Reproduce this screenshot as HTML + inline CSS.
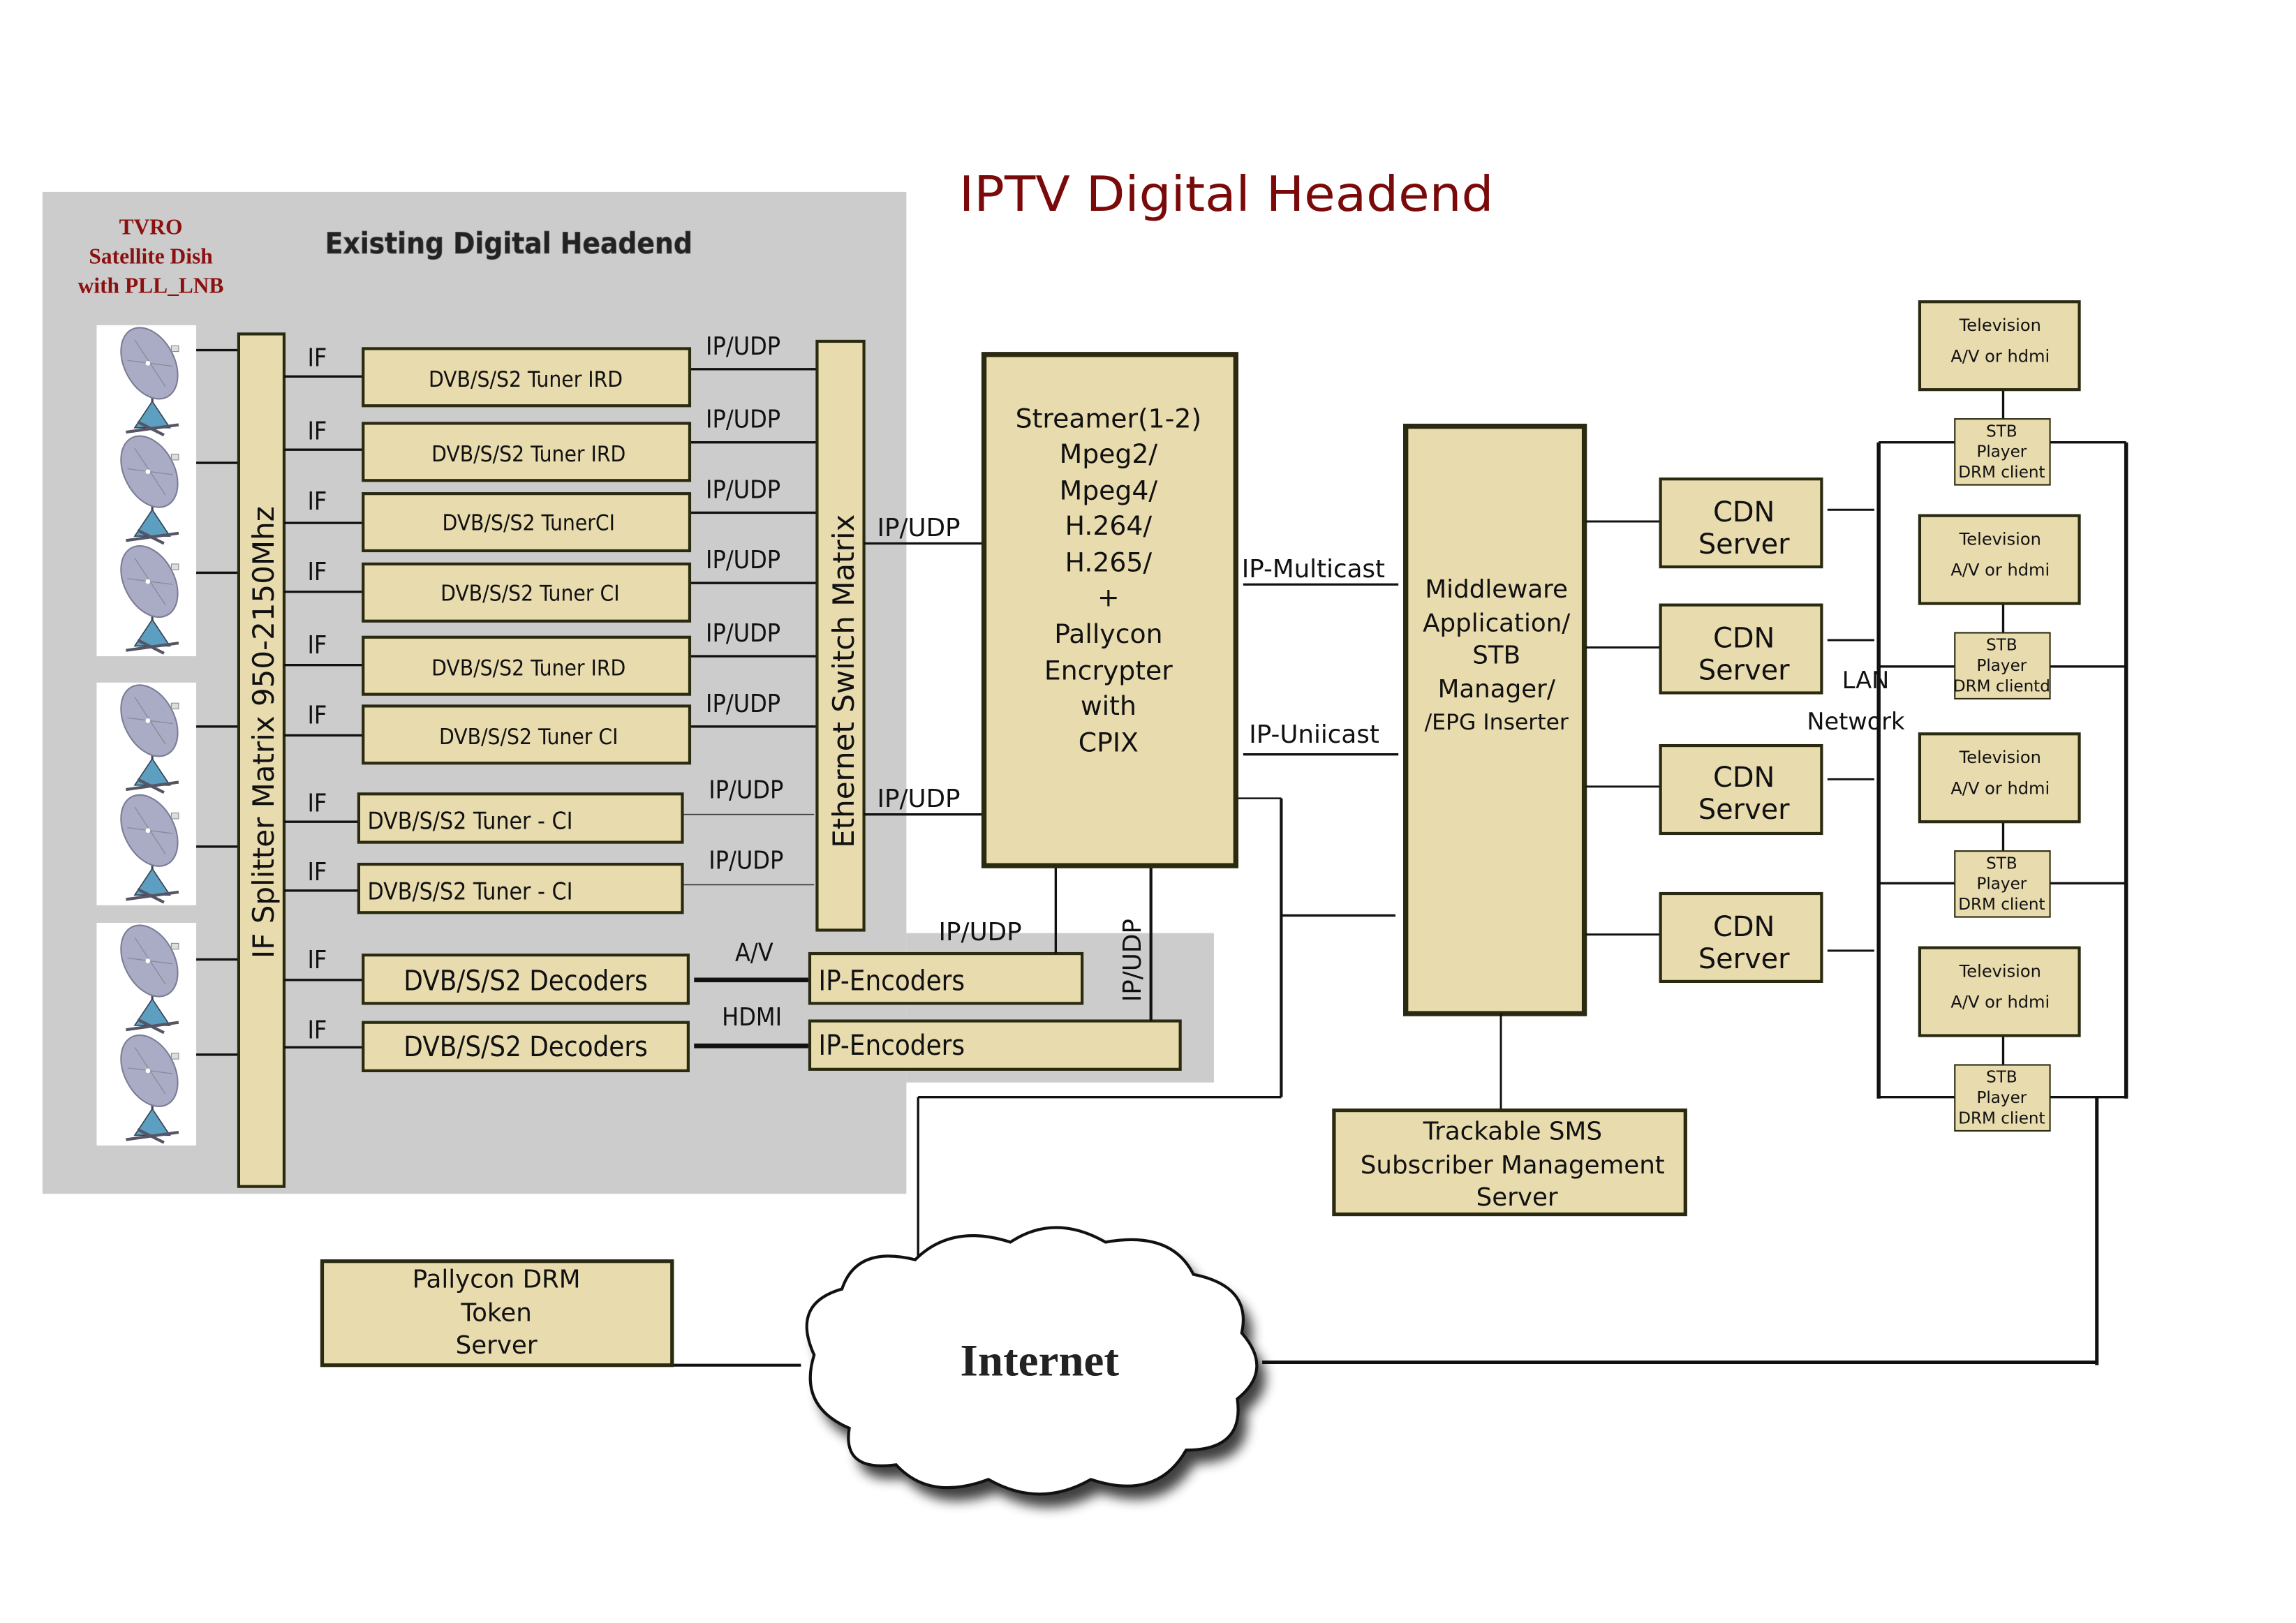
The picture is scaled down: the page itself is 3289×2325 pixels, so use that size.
<!DOCTYPE html>
<html><head><meta charset="utf-8"><style>
html,body{margin:0;padding:0;background:#fff;}
svg{display:block;}
text{font-family:"DejaVu Sans","Liberation Sans",sans-serif;fill:#111;}
.n{font-family:"DejaVu Sans Condensed","DejaVu Sans",sans-serif;}
</style></head><body>
<svg width="3289" height="2325" viewBox="0 0 1568 1108" preserveAspectRatio="none" xmlns="http://www.w3.org/2000/svg">
<defs>
<g id="dish">
<line x1="104" y1="44" x2="104" y2="64" stroke="#445" stroke-width="1.5"/>
<polygon points="104,50 92,68 116,68" fill="#5d9fc0" stroke="#345" stroke-width="0.8"/>
<line x1="86" y1="71" x2="122" y2="66" stroke="#556" stroke-width="2"/>
<line x1="94" y1="64" x2="112" y2="73" stroke="#556" stroke-width="2"/>
<ellipse cx="0" cy="0" rx="17" ry="26" transform="translate(102,24) rotate(-28)" fill="#a9acc4" stroke="#7a7d95" stroke-width="1"/>
<line x1="92" y1="8" x2="113" y2="40" stroke="#889" stroke-width="0.6"/>
<line x1="87" y1="22" x2="118" y2="26" stroke="#889" stroke-width="0.6"/>
<circle cx="101" cy="24" r="1.6" fill="#fff"/>
<rect x="117" y="12" width="5" height="4" fill="#ddd" stroke="#888" stroke-width="0.5"/>
</g>
<filter id="sh" x="-10%" y="-10%" width="130%" height="130%"><feGaussianBlur stdDeviation="4"/></filter>
</defs>

<rect x="29" y="131" width="590" height="684" fill="#cccccc"/>
<rect x="619" y="637" width="210" height="102" fill="#cccccc"/>

<text x="655" y="144" font-size="33" textLength="365" lengthAdjust="spacingAndGlyphs" style="fill:#7a0a0a">IPTV Digital Headend</text>
<text x="222" y="173" font-size="20" font-weight="bold" class="n" style="fill:#222;stroke:#555;stroke-width:0.4">Existing Digital Headend</text>
<g font-family="Liberation Serif,serif" font-weight="bold" font-size="15" text-anchor="middle">
<text x="103" y="160" style="fill:#8b1010;font-family:'Liberation Serif',serif">TVRO</text>
<text x="103" y="180" style="fill:#8b1010;font-family:'Liberation Serif',serif">Satellite Dish</text>
<text x="103" y="200" style="fill:#8b1010;font-family:'Liberation Serif',serif">with  PLL_LNB</text>
</g>

<rect x="66" y="222" width="68" height="226" fill="#fff"/>
<rect x="66" y="466" width="68" height="152" fill="#fff"/>
<rect x="66" y="630" width="68" height="152" fill="#fff"/>
<use href="#dish" transform="translate(0,224)"/>
<use href="#dish" transform="translate(0,298)"/>
<use href="#dish" transform="translate(0,373)"/>
<use href="#dish" transform="translate(0,468)"/>
<use href="#dish" transform="translate(0,543)"/>
<use href="#dish" transform="translate(0,632)"/>
<use href="#dish" transform="translate(0,707)"/>
<g stroke="#111" stroke-width="1.6">
<line x1="134" y1="239" x2="163" y2="239"/>
<line x1="134" y1="316" x2="163" y2="316"/>
<line x1="134" y1="391" x2="163" y2="391"/>
<line x1="134" y1="496" x2="163" y2="496"/>
<line x1="134" y1="578" x2="163" y2="578"/>
<line x1="134" y1="655" x2="163" y2="655"/>
<line x1="134" y1="720" x2="163" y2="720"/>
</g>

<rect x="163" y="228" width="31" height="582" fill="#e8dbae" stroke="#2a2a10" stroke-width="2"/>
<text transform="translate(187,500) rotate(-90)" font-size="20" text-anchor="middle">IF Splitter Matrix 950-2150Mhz</text>

<g stroke="#111" stroke-width="1.6">
<line x1="194" y1="257" x2="248" y2="257"/>
<line x1="194" y1="307" x2="248" y2="307"/>
<line x1="194" y1="357" x2="248" y2="357"/>
<line x1="194" y1="404" x2="248" y2="404"/>
<line x1="194" y1="454" x2="248" y2="454"/>
<line x1="194" y1="502" x2="248" y2="502"/>
<line x1="194" y1="561" x2="245" y2="561"/>
<line x1="194" y1="608" x2="245" y2="608"/>
<line x1="194" y1="669" x2="248" y2="669"/>
<line x1="194" y1="715" x2="248" y2="715"/>
<line x1="471" y1="252" x2="558" y2="252"/>
<line x1="471" y1="302" x2="558" y2="302"/>
<line x1="471" y1="350" x2="558" y2="350"/>
<line x1="471" y1="398" x2="558" y2="398"/>
<line x1="471" y1="448" x2="558" y2="448"/>
<line x1="471" y1="496" x2="558" y2="496"/>
</g>
<g stroke="#333" stroke-width="0.8">
<line x1="466" y1="556" x2="556" y2="556"/>
<line x1="466" y1="604" x2="556" y2="604"/>
</g>
<g font-size="17" class="n">
<text x="210" y="250" class="n">IF</text><text x="210" y="300" class="n">IF</text>
<text x="210" y="348" class="n">IF</text><text x="210" y="396" class="n">IF</text>
<text x="210" y="446" class="n">IF</text><text x="210" y="494" class="n">IF</text>
<text x="210" y="554" class="n">IF</text><text x="210" y="601" class="n">IF</text>
<text x="210" y="661" class="n">IF</text><text x="210" y="709" class="n">IF</text>
<text x="482" y="242" class="n">IP/UDP</text><text x="482" y="292" class="n">IP/UDP</text>
<text x="482" y="340" class="n">IP/UDP</text><text x="482" y="388" class="n">IP/UDP</text>
<text x="482" y="438" class="n">IP/UDP</text><text x="482" y="486" class="n">IP/UDP</text>
<text x="484" y="545" class="n">IP/UDP</text><text x="484" y="593" class="n">IP/UDP</text>
<text x="502" y="656" class="n">A/V</text><text x="493" y="700" class="n">HDMI</text>
</g>
<g fill="#e8dbae" stroke="#2a2a10" stroke-width="2">
<rect x="248" y="238" width="223" height="39"/>
<rect x="248" y="289" width="223" height="39"/>
<rect x="248" y="337" width="223" height="39"/>
<rect x="248" y="385" width="223" height="39"/>
<rect x="248" y="435" width="223" height="39"/>
<rect x="248" y="482" width="223" height="39"/>
<rect x="245" y="542" width="221" height="33"/>
<rect x="245" y="590" width="221" height="33"/>
<rect x="248" y="652" width="222" height="33"/>
<rect x="248" y="698" width="222" height="33"/>
<rect x="553" y="651" width="186" height="34"/>
<rect x="553" y="697" width="253" height="33"/>
</g>
<g font-size="15" class="n" text-anchor="middle">
<text x="359" y="264" class="n">DVB/S/S2  Tuner IRD</text>
<text x="361" y="315" class="n">DVB/S/S2  Tuner IRD</text>
<text x="361" y="362" class="n">DVB/S/S2  TunerCI</text>
<text x="362" y="410" class="n">DVB/S/S2  Tuner CI</text>
<text x="361" y="461" class="n">DVB/S/S2 Tuner IRD</text>
<text x="361" y="508" class="n">DVB/S/S2 Tuner CI</text>
</g>
<g font-size="16" class="n">
<text x="251" y="566" class="n">DVB/S/S2 Tuner - CI</text>
<text x="251" y="614" class="n">DVB/S/S2 Tuner - CI</text>
<text x="359" y="676" font-size="19" text-anchor="middle" class="n">DVB/S/S2 Decoders</text>
<text x="359" y="721" font-size="19" text-anchor="middle" class="n">DVB/S/S2 Decoders</text>
<text x="559" y="676" font-size="19" class="n">IP-Encoders</text>
<text x="559" y="720" font-size="19" class="n">IP-Encoders</text>
</g>
<g stroke="#111" stroke-width="3.2">
<line x1="474" y1="669" x2="552" y2="669"/>
<line x1="474" y1="714" x2="552" y2="714"/>
</g>

<rect x="558" y="233" width="32" height="402" fill="#e8dbae" stroke="#2a2a10" stroke-width="2"/>
<text transform="translate(583,465) rotate(-90)" font-size="20" text-anchor="middle">Ethernet Switch Matrix</text>
<g stroke="#111" stroke-width="1.6">
<line x1="590" y1="371" x2="671" y2="371"/>
<line x1="590" y1="556" x2="671" y2="556"/>
<line x1="721" y1="592" x2="721" y2="651"/>
<line x1="786" y1="592" x2="786" y2="697" stroke-width="2"/>
<line x1="849" y1="399" x2="955" y2="399"/>
<line x1="849" y1="515" x2="955" y2="515"/>
<line x1="843" y1="545" x2="875" y2="545" stroke-width="1.2"/>
<line x1="875" y1="545" x2="875" y2="749" stroke-width="2"/>
<line x1="875" y1="625" x2="953" y2="625"/>
<line x1="627" y1="749" x2="875" y2="749"/>
<line x1="627" y1="749" x2="627" y2="862"/>
</g>
<g font-size="17">
<text x="599" y="366">IP/UDP</text>
<text x="599" y="551">IP/UDP</text>
<text x="641" y="642">IP/UDP</text>
<text transform="translate(779,684) rotate(-90)">IP/UDP</text>
<text x="848" y="394">IP-Multicast</text>
<text x="853" y="507">IP-Uniicast</text>
</g>

<rect x="672" y="242" width="172" height="349" fill="#e8dbae" stroke="#2a2a10" stroke-width="3.5"/>
<g font-size="18" text-anchor="middle">
<text x="757" y="292">Streamer(1-2)</text>
<text x="757" y="316">Mpeg2/</text>
<text x="757" y="341">Mpeg4/</text>
<text x="757" y="365">H.264/</text>
<text x="757" y="390">H.265/</text>
<text x="757" y="414">+</text>
<text x="757" y="439">Pallycon</text>
<text x="757" y="464">Encrypter</text>
<text x="757" y="488">with</text>
<text x="757" y="513">CPIX</text>
</g>

<rect x="960" y="291" width="122" height="401" fill="#e8dbae" stroke="#2a2a10" stroke-width="3.5"/>
<g font-size="17" text-anchor="middle">
<text x="1022" y="408">Middleware</text>
<text x="1022" y="431">Application/</text>
<text x="1022" y="453">STB</text>
<text x="1022" y="476">Manager/</text>
<text x="1022" y="498" font-size="15">/EPG Inserter</text>
</g>
<g stroke="#111" stroke-width="1.4">
<line x1="1083" y1="356" x2="1134" y2="356"/>
<line x1="1083" y1="442" x2="1134" y2="442"/>
<line x1="1083" y1="537" x2="1134" y2="537"/>
<line x1="1083" y1="638" x2="1134" y2="638"/>
<line x1="1248" y1="348" x2="1280" y2="348"/>
<line x1="1248" y1="437" x2="1280" y2="437"/>
<line x1="1248" y1="532" x2="1280" y2="532"/>
<line x1="1248" y1="649" x2="1280" y2="649"/>
<line x1="1025" y1="692" x2="1025" y2="758"/>
<line x1="459" y1="932" x2="547" y2="932" stroke-width="2"/>
<line x1="862" y1="930" x2="1432" y2="930" stroke-width="2.4"/>
<line x1="1432" y1="749" x2="1432" y2="932" stroke-width="2.4"/>
</g>
<g fill="#e8dbae" stroke="#2a2a10" stroke-width="2">
<rect x="1134" y="327" width="110" height="60"/>
<rect x="1134" y="413" width="110" height="60"/>
<rect x="1134" y="509" width="110" height="60"/>
<rect x="1134" y="610" width="110" height="60"/>
</g>
<g font-size="19" text-anchor="middle">
<text x="1191" y="356">CDN</text><text x="1191" y="378">Server</text>
<text x="1191" y="442">CDN</text><text x="1191" y="464">Server</text>
<text x="1191" y="537">CDN</text><text x="1191" y="559">Server</text>
<text x="1191" y="639">CDN</text><text x="1191" y="661">Server</text>
</g>

<g stroke="#111" stroke-width="1.6">
<line x1="1283" y1="302" x2="1452" y2="302"/>
<line x1="1283" y1="455" x2="1452" y2="455"/>
<line x1="1283" y1="603" x2="1452" y2="603"/>
<line x1="1283" y1="749" x2="1452" y2="749"/>
<line x1="1368" y1="266" x2="1368" y2="286"/>
<line x1="1368" y1="412" x2="1368" y2="432"/>
<line x1="1368" y1="561" x2="1368" y2="581"/>
<line x1="1368" y1="707" x2="1368" y2="727"/>
<line x1="1283" y1="302" x2="1283" y2="750" stroke-width="2.6"/>
<line x1="1452" y1="302" x2="1452" y2="750" stroke-width="2.6"/>
</g>
<g fill="#e8dbae" stroke="#2a2a10">
<rect x="1311" y="206" width="109" height="60" stroke-width="2"/>
<rect x="1311" y="352" width="109" height="60" stroke-width="2"/>
<rect x="1311" y="501" width="109" height="60" stroke-width="2"/>
<rect x="1311" y="647" width="109" height="60" stroke-width="2"/>
<rect x="1335" y="286" width="65" height="45" stroke-width="1"/>
<rect x="1335" y="432" width="65" height="45" stroke-width="1"/>
<rect x="1335" y="581" width="65" height="45" stroke-width="1"/>
<rect x="1335" y="727" width="65" height="45" stroke-width="1"/>
</g>
<g font-size="11.5" text-anchor="middle">
<text x="1366" y="226">Television</text><text x="1366" y="247">A/V or hdmi</text>
<text x="1366" y="372">Television</text><text x="1366" y="393">A/V or hdmi</text>
<text x="1366" y="521">Television</text><text x="1366" y="542">A/V or hdmi</text>
<text x="1366" y="667">Television</text><text x="1366" y="688">A/V or hdmi</text>
</g>
<g font-size="11" text-anchor="middle">
<text x="1367" y="298">STB</text><text x="1367" y="312">Player</text><text x="1367" y="326">DRM client</text>
<text x="1367" y="444">STB</text><text x="1367" y="458">Player</text><text x="1367" y="472">DRM clientd</text>
<text x="1367" y="593">STB</text><text x="1367" y="607">Player</text><text x="1367" y="621">DRM client</text>
<text x="1367" y="739">STB</text><text x="1367" y="753">Player</text><text x="1367" y="767">DRM client</text>
</g>
<text x="1258" y="470" font-size="16">LAN</text>
<text x="1234" y="498" font-size="16">Network</text>

<rect x="911" y="758" width="240" height="71" fill="#e8dbae" stroke="#2a2a10" stroke-width="2.5"/>
<g font-size="17" text-anchor="middle">
<text x="1033" y="778">Trackable SMS</text>
<text x="1033" y="801">Subscriber Management</text>
<text x="1036" y="823">Server</text>
</g>

<rect x="220" y="861" width="239" height="71" fill="#e8dbae" stroke="#2a2a10" stroke-width="2.5"/>
<g font-size="17" text-anchor="middle">
<text x="339" y="879">Pallycon DRM</text>
<text x="339" y="902">Token</text>
<text x="339" y="924">Server</text>
</g>

<path d="M580,975 Q545,960 556,925 Q540,890 575,880 Q585,850 625,860 Q650,835 690,848 Q720,828 755,848 Q800,840 815,870 Q855,878 848,910 Q870,935 845,955 Q850,990 810,990 Q790,1025 745,1010 Q710,1030 675,1010 Q635,1025 612,1000 Q575,1005 580,975 Z" fill="#000" opacity="0.75" transform="translate(6,9)" filter="url(#sh)"/>
<path d="M580,975 Q545,960 556,925 Q540,890 575,880 Q585,850 625,860 Q650,835 690,848 Q720,828 755,848 Q800,840 815,870 Q855,878 848,910 Q870,935 845,955 Q850,990 810,990 Q790,1025 745,1010 Q710,1030 675,1010 Q635,1025 612,1000 Q575,1005 580,975 Z" fill="#fff" stroke="#111" stroke-width="2"/>
<text x="710" y="939" font-size="31" font-weight="bold" text-anchor="middle" style="font-family:'Liberation Serif',serif;fill:#222">Internet</text>
</svg>
</body></html>
